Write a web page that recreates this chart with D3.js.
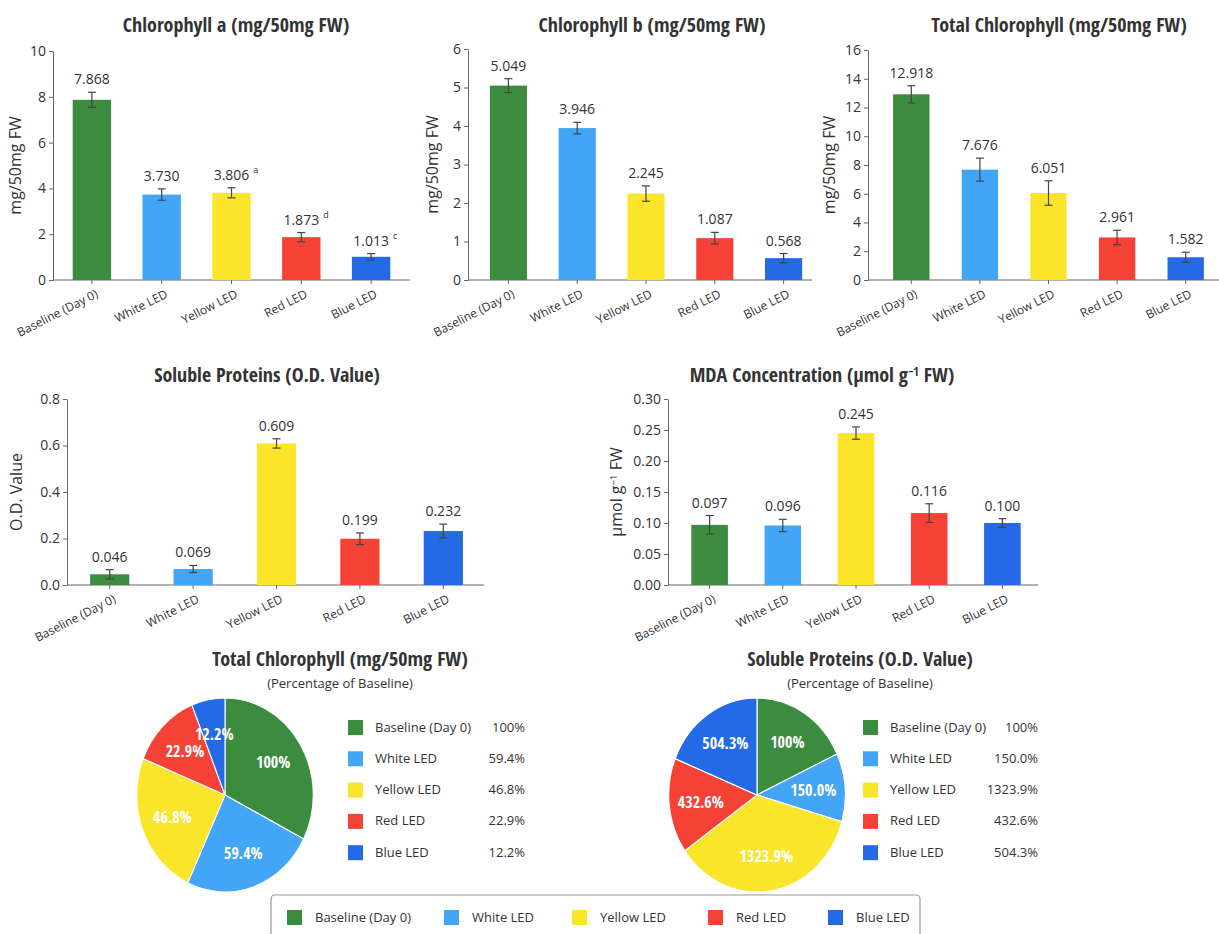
<!DOCTYPE html>
<html>
<head>
<meta charset="utf-8">
<script src="https://cdn.jsdelivr.net/npm/d3@7"></script>
<style>
  body { margin: 0; background: #fff; }
  svg text { font-family: "Open Sans", "DejaVu Sans", sans-serif; fill: #333; }
  svg text.title { font-family: "Open Sans Condensed", "Open Sans", sans-serif; font-weight: bold; font-size: 20px; }
  .axis path, .axis line { stroke: #666; }
  .axis text { font-size: 14px; fill: #333; }
</style>
</head>
<body>
<div id="chart"></div>
<script>
// categories + colours shared by all panels
const categories = ["Baseline (Day 0)", "White LED", "Yellow LED", "Red LED", "Blue LED"];
const colors = ["#3b8c3f", "#42a5f5", "#fbe52b", "#f44336", "#2469e6"];

const chlAValues = [7.868, 3.730, 3.806, 1.873, 1.013];
const chlAErrors = [0.33, 0.25, 0.22, 0.2, 0.14];
const chlANotes = ["", "", "a", "d", "c"];
const chlATicks = [0, 2, 4, 6, 8, 10];

const chlBValues = [5.049, 3.946, 2.245, 1.087, 0.568];
const chlBErrors = [0.18, 0.15, 0.2, 0.15, 0.12];
const chlBTicks = [0, 1, 2, 3, 4, 5, 6];

const totalValues = [12.918, 7.676, 6.051, 2.961, 1.582];
const totalErrors = [0.6, 0.8, 0.85, 0.5, 0.35];
const totalTicks = [0, 2, 4, 6, 8, 10, 12, 14, 16];

const proteinValues = [0.046, 0.069, 0.609, 0.199, 0.232];
const proteinErrors = [0.02, 0.015, 0.02, 0.025, 0.03];
const proteinTicks = [0, 0.2, 0.4, 0.6, 0.8];

const mdaValues = [0.097, 0.096, 0.245, 0.116, 0.100];
const mdaErrors = [0.015, 0.01, 0.01, 0.015, 0.007];
const mdaTicks = [0, 0.05, 0.10, 0.15, 0.20, 0.25, 0.30];

// pie slices: angle share as drawn (degrees), labels as printed
const pieChlShares = [117, 88, 87, 46, 22];
const pieChlLabels = ["100%", "59.4%", "46.8%", "22.9%", "12.2%"];
const pieProtShares = [65, 41, 129, 57, 68];
const pieProtLabels = ["100%", "150.0%", "1323.9%", "432.6%", "504.3%"];

var width = 1219, height = 934;

var svg = d3.select("#chart").append("svg")
    .attr("width", width)
    .attr("height", height);

function barChart(cfg) {
    var g = svg.append("g");

    var x = d3.scaleBand()
        .domain(categories)
        .range([cfg.x0, cfg.x1])
        .paddingInner(cfg.pad)
        .paddingOuter(cfg.pad / 2);

    var y = d3.scaleLinear()
        .domain([0, cfg.max])
        .range([cfg.bottom, cfg.top]);

    g.append("text")
        .attr("class", "title")
        .attr("x", cfg.titleX)
        .attr("y", cfg.titleY)
        .attr("text-anchor", "middle")
        .call(cfg.title);

    g.append("g")
        .attr("class", "axis")
        .attr("transform", "translate(" + cfg.axisX + ",0)")
        .call(d3.axisLeft(y).tickValues(cfg.ticks).tickFormat(cfg.fmt).tickSize(4).tickSizeOuter(0).tickPadding(3));

    var xa = g.append("g")
        .attr("class", "axis")
        .attr("transform", "translate(0," + cfg.bottom + ")")
        .call(d3.axisBottom(x).tickSize(4).tickSizeOuter(0));
    xa.select(".domain").remove();
    xa.append("line")
        .attr("x1", cfg.axisX).attr("x2", cfg.xEnd)
        .attr("stroke", "#666");
    xa.selectAll("text")
        .attr("x", 0).attr("y", 0).attr("dy", "0.35em")
        .attr("transform", "translate(5,13) rotate(-27)")
        .style("text-anchor", "end")
        .style("font-size", "12px");

    g.append("text")
        .attr("transform", "translate(" + cfg.labelX + "," + (cfg.top + cfg.bottom) / 2 + ") rotate(-90)")
        .attr("text-anchor", "middle")
        .style("font-size", "16px")
        .call(cfg.ylabel);

    var bars = g.selectAll(".bar")
        .data(cfg.values)
        .enter().append("g");

    bars.append("rect")
        .attr("x", function(d, i) { return x(categories[i]); })
        .attr("width", x.bandwidth())
        .attr("y", function(d) { return y(d); })
        .attr("height", function(d) { return y(0) - y(d); })
        .attr("fill", function(d, i) { return colors[i]; });

    bars.each(function(d, i) {
        var cx = x(categories[i]) + x.bandwidth() / 2,
            e = cfg.errors[i],
            b = d3.select(this);
        b.append("line")
            .attr("x1", cx).attr("x2", cx)
            .attr("y1", y(d - e)).attr("y2", y(d + e))
            .attr("stroke", "#444").attr("stroke-width", 1.2);
        [d - e, d + e].forEach(function(v) {
            b.append("line")
                .attr("x1", cx - 4).attr("x2", cx + 4)
                .attr("y1", y(v)).attr("y2", y(v))
                .attr("stroke", "#444").attr("stroke-width", 1.2);
        });
        var t = b.append("text")
            .attr("x", cx)
            .attr("y", y(d + e) - 8)
            .attr("text-anchor", "middle")
            .style("font-size", "14px")
            .text(cfg.labelFmt(d));
        if (cfg.notes && cfg.notes[i]) {
            var w = t.node().getComputedTextLength();
            b.append("text")
                .attr("x", cx + w / 2 + 4)
                .attr("y", y(d + e) - 15)
                .style("font-size", "9px")
                .text(cfg.notes[i]);
        }
    });
}

function plainText(s) { return function(sel) { sel.text(s); }; }
function supText(before, sup, after) {
    return function(sel) {
        sel.append("tspan").text(before);
        sel.append("tspan").attr("dy", "-0.5em").style("font-size", "0.6em").text(sup);
        sel.append("tspan").attr("dy", "0.3em").text(after);
    };
}

barChart({
    values: chlAValues, errors: chlAErrors, notes: chlANotes, ticks: chlATicks, max: 10,
    fmt: d3.format("d"), labelFmt: d3.format(".3f"),
    x0: 57, x1: 406, xEnd: 410, pad: 0.45, axisX: 53, top: 51, bottom: 280,
    title: plainText("Chlorophyll a (mg/50mg FW)"), titleX: 236, titleY: 32,
    ylabel: plainText("mg/50mg FW"), labelX: 21
});

barChart({
    values: chlBValues, errors: chlBErrors, ticks: chlBTicks, max: 6,
    fmt: d3.format("d"), labelFmt: d3.format(".3f"),
    x0: 474, x1: 818, xEnd: 812, pad: 0.46, axisX: 468, top: 49, bottom: 280,
    title: plainText("Chlorophyll b (mg/50mg FW)"), titleX: 652, titleY: 32,
    ylabel: plainText("mg/50mg FW"), labelX: 438
});

barChart({
    values: totalValues, errors: totalErrors, ticks: totalTicks, max: 16,
    fmt: d3.format("d"), labelFmt: d3.format(".3f"),
    x0: 877, x1: 1220, xEnd: 1219, pad: 0.47, axisX: 868, top: 50, bottom: 280,
    title: plainText("Total Chlorophyll (mg/50mg FW)"), titleX: 1059, titleY: 32,
    ylabel: plainText("mg/50mg FW"), labelX: 835
});

barChart({
    values: proteinValues, errors: proteinErrors, ticks: proteinTicks, max: 0.8,
    fmt: d3.format(".1f"), labelFmt: d3.format(".3f"),
    x0: 68, x1: 485, xEnd: 484, pad: 0.53, axisX: 67, top: 399, bottom: 585,
    title: plainText("Soluble Proteins (O.D. Value)"), titleX: 267, titleY: 382,
    ylabel: plainText("O.D. Value"), labelX: 22
});

barChart({
    values: mdaValues, errors: mdaErrors, ticks: mdaTicks, max: 0.30,
    fmt: d3.format(".2f"), labelFmt: d3.format(".3f"),
    x0: 673, x1: 1039, xEnd: 1038, pad: 0.5, axisX: 668, top: 399, bottom: 585,
    title: supText("MDA Concentration (μmol g", "−1", " FW)"), titleX: 822, titleY: 382,
    ylabel: supText("μmol g", "−1", " FW"), labelX: 622
});

function pieChart(cfg) {
    var g = svg.append("g");

    g.append("text").attr("class", "title")
        .attr("x", cfg.titleX).attr("y", 666)
        .attr("text-anchor", "middle")
        .text(cfg.title);
    g.append("text")
        .attr("x", cfg.titleX).attr("y", 688)
        .attr("text-anchor", "middle")
        .style("font-size", "13px")
        .text("(Percentage of Baseline)");

    var pie = d3.pie().sort(null).value(function(d) { return d; });
    var arcs = pie(cfg.shares);
    var r = 97, sx = 0.91;
    var arc = d3.arc().innerRadius(0).outerRadius(r);
    var labelArc = d3.arc().innerRadius(r * 0.64).outerRadius(r * 0.64);

    var p = g.append("g")
        .attr("transform", "translate(" + cfg.cx + "," + cfg.cy + ") scale(" + sx + ",1)");
    p.selectAll("path")
        .data(arcs)
        .enter().append("path")
        .attr("d", arc)
        .attr("fill", function(d, i) { return colors[i]; })
        .attr("stroke", "#fff")
        .attr("stroke-width", 1.2);

    g.selectAll(".plabel")
        .data(arcs)
        .enter().append("text")
        .attr("x", function(d) { return cfg.cx + labelArc.centroid(d)[0] * sx; })
        .attr("y", function(d) { return cfg.cy + labelArc.centroid(d)[1]; })
        .attr("dy", "0.35em")
        .attr("text-anchor", "middle")
        .style("font-family", "'Open Sans Condensed', 'Open Sans', sans-serif")
        .style("font-size", "16px")
        .style("font-weight", "bold")
        .style("fill", "#fff")
        .text(function(d, i) { return cfg.labels[i]; });

    var leg = g.selectAll(".leg")
        .data(categories)
        .enter().append("g")
        .attr("transform", function(d, i) { return "translate(" + cfg.legX + "," + (727 + i * 31.3) + ")"; });
    leg.append("rect")
        .attr("x", -7).attr("y", -7).attr("width", 15).attr("height", 15)
        .attr("fill", function(d, i) { return colors[i]; });
    leg.append("text")
        .attr("x", 20).attr("dy", "0.35em")
        .style("font-size", "13px")
        .text(function(d) { return d; });
    leg.append("text")
        .attr("x", cfg.valX - cfg.legX).attr("dy", "0.35em")
        .attr("text-anchor", "end")
        .style("font-size", "13px")
        .text(function(d, i) { return cfg.labels[i]; });
}

pieChart({
    shares: pieChlShares, labels: pieChlLabels, title: "Total Chlorophyll (mg/50mg FW)",
    titleX: 340, cx: 225, cy: 795, legX: 355, valX: 525
});
pieChart({
    shares: pieProtShares, labels: pieProtLabels, title: "Soluble Proteins (O.D. Value)",
    titleX: 860, cx: 757, cy: 795, legX: 870, valX: 1038
});

// bottom legend
svg.append("rect")
    .attr("x", 271).attr("y", 895).attr("width", 649).attr("height", 50)
    .attr("rx", 4)
    .attr("fill", "#fff")
    .attr("stroke", "#999")
    .attr("stroke-width", 1.2);

var legendX = [315, 472, 600, 736, 856];
var bottomLeg = svg.selectAll(".bleg")
    .data(categories)
    .enter().append("g")
    .attr("transform", function(d, i) { return "translate(" + legendX[i] + ",917)"; });
bottomLeg.append("rect")
    .attr("x", -28).attr("y", -7).attr("width", 15).attr("height", 15)
    .attr("fill", function(d, i) { return colors[i]; });
bottomLeg.append("text")
    .attr("dy", "0.35em")
    .style("font-size", "13px")
    .text(function(d) { return d; });
</script>
</body>
</html>
